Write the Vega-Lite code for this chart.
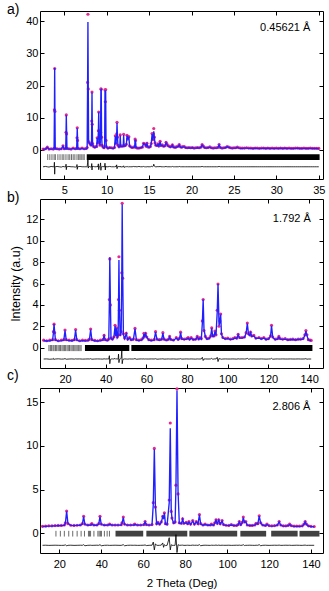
{
"$schema":"https://vega.github.io/schema/vega-lite/v6.json",
"padding":{"left":6,"top":2,"right":4,"bottom":2},
"spacing":20,
"bounds":"flush",
"config":{
 "view":{"stroke":"black","strokeWidth":1},
 "axis":{"grid":false,"domain":false,"tickColor":"black","tickSize":-4,"tickWidth":1,"labelFont":"Liberation Sans","labelFontSize":11,"labelColor":"black","labelFlush":false,"titleFont":"Liberation Sans","titleFontWeight":"normal","titleColor":"black","titleFontSize":12.5},
 "axisX":{"labelPadding":9},
 "axisY":{"labelPadding":6},
 "title":{"anchor":"start","frame":"group","dx":-33,"fontSize":14,"fontWeight":"normal","font":"Liberation Sans","color":"black"}
},
"datasets":{
"a":[
{"x":2.5,"o":0.3,"c":0.3,"d":-5.2},{"x":2.8,"o":0.4,"c":0.3,"d":-5.1},{"x":3.0,"o":0.9,"c":0.8,"d":-5.2},{"x":3.2,"o":0.3,"c":0.3,"d":-5.3},{"x":3.45,"o":0.4,"c":0.3,"d":-5.1},{"x":3.7,"o":0.3,"c":0.3,"d":-5.2},
{"x":3.8,"o":0.5,"c":0.4,"d":-5.2},{"x":3.84,"o":12.5,"c":11.8,"d":-3.8},{"x":3.87,"o":25.3,"c":25.5,"d":-7.5},{"x":3.9,"o":12.0,"c":12.2,"d":-5.4},{"x":3.94,"o":0.5,"c":0.4,"d":-5.2},
{"x":4.15,"o":0.4,"c":0.3,"d":-5.1},{"x":4.4,"o":0.3,"c":0.3,"d":-5.2},{"x":4.65,"o":0.4,"c":0.3,"d":-5.3},{"x":4.85,"o":1.3,"c":1.2,"d":-5.1},{"x":5.0,"o":0.4,"c":0.3,"d":-5.2},
{"x":5.17,"o":0.5,"c":0.4,"d":-5.2},{"x":5.21,"o":5.5,"c":5.2,"d":-4.4},{"x":5.24,"o":10.9,"c":10.8,"d":-6.1},{"x":5.28,"o":5.0,"c":5.3,"d":-5.2},{"x":5.32,"o":0.5,"c":0.4,"d":-5.2},
{"x":5.55,"o":0.4,"c":0.3,"d":-5.1},{"x":5.8,"o":0.3,"c":0.3,"d":-5.2},{"x":6.05,"o":0.6,"c":0.5,"d":-5.2},{"x":6.3,"o":0.4,"c":0.3,"d":-5.3},
{"x":6.46,"o":0.5,"c":0.4,"d":-5.2},{"x":6.5,"o":3.8,"c":3.4,"d":-4.5},{"x":6.53,"o":6.9,"c":6.8,"d":-6.0},{"x":6.57,"o":3.0,"c":3.4,"d":-5.2},{"x":6.61,"o":0.5,"c":0.4,"d":-5.2},
{"x":6.85,"o":0.4,"c":0.3,"d":-5.1},{"x":7.1,"o":0.6,"c":0.5,"d":-5.2},{"x":7.35,"o":0.4,"c":0.3,"d":-5.2},{"x":7.6,"o":0.5,"c":0.4,"d":-5.2},
{"x":7.7,"o":0.8,"c":0.6,"d":-5.2},{"x":7.75,"o":21.0,"c":19.8,"d":-4.0},{"x":7.79,"o":42.2,"c":39.8,"d":-2.0},{"x":7.83,"o":19.0,"c":20.0,"d":-5.6},{"x":7.87,"o":2.6,"c":2.5,"d":-5.2},
{"x":7.95,"o":2.3,"c":2.2,"d":-5.1},{"x":8.05,"o":1.9,"c":1.8,"d":-5.2},{"x":8.15,"o":1.6,"c":1.5,"d":-5.3},
{"x":8.21,"o":1.6,"c":1.5,"d":-5.2},{"x":8.24,"o":9.0,"c":8.6,"d":-4.2},{"x":8.27,"o":18.0,"c":17.9,"d":-6.2},{"x":8.3,"o":8.0,"c":8.5,"d":-5.0},{"x":8.34,"o":2.0,"c":2.0,"d":-5.2},
{"x":8.45,"o":1.1,"c":1.0,"d":-5.1},{"x":8.6,"o":0.9,"c":0.8,"d":-5.2},{"x":8.75,"o":1.1,"c":1.0,"d":-5.2},{"x":8.82,"o":1.1,"c":1.0,"d":-5.2},{"x":8.88,"o":3.8,"c":3.7,"d":-5.0},{"x":8.95,"o":2.1,"c":2.0,"d":-5.3},
{"x":9.02,"o":6.0,"c":5.7,"d":-4.3},{"x":9.06,"o":11.8,"c":11.7,"d":-6.1},{"x":9.1,"o":6.0,"c":6.2,"d":-5.2},{"x":9.15,"o":2.5,"c":2.4,"d":-5.2},{"x":9.22,"o":1.5,"c":1.4,"d":-5.1},
{"x":9.28,"o":5.5,"c":5.2,"d":-4.0},{"x":9.32,"o":19.0,"c":18.7,"d":-6.3},{"x":9.36,"o":18.9,"c":18.8,"d":-5.2},{"x":9.4,"o":4.0,"c":4.3,"d":-5.2},{"x":9.46,"o":1.5,"c":1.4,"d":-5.2},
{"x":9.55,"o":1.0,"c":0.9,"d":-5.1},{"x":9.68,"o":0.7,"c":0.6,"d":-5.2},{"x":9.76,"o":1.1,"c":1.0,"d":-5.2},{"x":9.8,"o":18.7,"c":18.5,"d":-4.1},{"x":9.84,"o":15.0,"c":15.4,"d":-6.2},{"x":9.88,"o":18.8,"c":18.6,"d":-5.0},{"x":9.92,"o":3.0,"c":3.2,"d":-5.3},{"x":9.97,"o":1.0,"c":0.9,"d":-5.2},
{"x":10.15,"o":0.6,"c":0.5,"d":-5.2},{"x":10.35,"o":0.8,"c":0.7,"d":-5.1},{"x":10.55,"o":0.7,"c":0.6,"d":-5.2},{"x":10.75,"o":0.6,"c":0.5,"d":-5.2},{"x":10.92,"o":0.8,"c":0.7,"d":-5.2},
{"x":11.02,"o":4.4,"c":4.3,"d":-5.0},{"x":11.1,"o":2.0,"c":1.9,"d":-5.3},{"x":11.18,"o":5.0,"c":4.8,"d":-4.6},{"x":11.22,"o":8.6,"c":8.4,"d":-5.8},{"x":11.27,"o":4.0,"c":4.1,"d":-5.2},{"x":11.33,"o":1.5,"c":1.4,"d":-5.2},
{"x":11.45,"o":1.0,"c":0.9,"d":-5.1},{"x":11.55,"o":1.2,"c":1.1,"d":-5.2},{"x":11.6,"o":4.7,"c":4.5,"d":-5.0},{"x":11.66,"o":1.3,"c":1.2,"d":-5.3},{"x":11.8,"o":1.2,"c":1.1,"d":-5.2},
{"x":11.95,"o":1.3,"c":1.2,"d":-5.2},{"x":12.0,"o":4.9,"c":4.7,"d":-4.9},{"x":12.06,"o":1.3,"c":1.2,"d":-5.4},{"x":12.2,"o":1.4,"c":1.3,"d":-5.2},{"x":12.32,"o":1.8,"c":1.7,"d":-5.2},
{"x":12.4,"o":4.6,"c":4.5,"d":-5.0},{"x":12.48,"o":3.4,"c":3.3,"d":-5.2},{"x":12.56,"o":4.2,"c":4.0,"d":-5.3},{"x":12.62,"o":4.1,"c":4.0,"d":-5.1},{"x":12.7,"o":1.3,"c":1.2,"d":-5.2},
{"x":12.85,"o":1.0,"c":0.9,"d":-5.2},{"x":13.0,"o":0.8,"c":0.7,"d":-5.2},{"x":13.15,"o":0.9,"c":0.8,"d":-5.1},{"x":13.3,"o":1.0,"c":0.9,"d":-5.2},{"x":13.35,"o":3.4,"c":3.3,"d":-5.0},{"x":13.4,"o":3.0,"c":3.0,"d":-5.2},{"x":13.46,"o":0.8,"c":0.8,"d":-5.2},
{"x":13.6,"o":0.6,"c":0.6,"d":-5.2},{"x":13.8,"o":0.6,"c":0.6,"d":-5.1},{"x":14.0,"o":0.7,"c":0.7,"d":-5.2},{"x":14.2,"o":0.9,"c":0.9,"d":-5.2},
{"x":14.35,"o":2.1,"c":2.0,"d":-5.1},{"x":14.45,"o":1.9,"c":1.9,"d":-5.2},{"x":14.55,"o":1.8,"c":1.7,"d":-5.2},{"x":14.65,"o":1.2,"c":1.2,"d":-5.3},{"x":14.75,"o":2.1,"c":2.0,"d":-5.1},{"x":14.85,"o":1.0,"c":1.0,"d":-5.2},
{"x":15.0,"o":0.9,"c":0.8,"d":-5.2},{"x":15.15,"o":1.1,"c":1.0,"d":-5.2},{"x":15.25,"o":2.0,"c":1.9,"d":-5.1},{"x":15.35,"o":5.1,"c":4.9,"d":-5.0},{"x":15.42,"o":3.2,"c":3.1,"d":-5.2},{"x":15.5,"o":5.0,"c":4.8,"d":-5.0},{"x":15.55,"o":6.7,"c":5.8,"d":-4.4},{"x":15.62,"o":4.0,"c":3.8,"d":-5.0},{"x":15.7,"o":2.2,"c":2.1,"d":-5.2},
{"x":15.8,"o":1.5,"c":1.4,"d":-5.2},{"x":15.95,"o":1.4,"c":1.3,"d":-5.2},{"x":16.05,"o":1.9,"c":1.8,"d":-5.1},{"x":16.15,"o":1.3,"c":1.2,"d":-5.2},{"x":16.3,"o":2.7,"c":2.6,"d":-5.1},{"x":16.4,"o":1.4,"c":1.3,"d":-5.2},
{"x":16.55,"o":1.6,"c":1.5,"d":-5.2},{"x":16.7,"o":1.2,"c":1.1,"d":-5.2},{"x":16.85,"o":1.3,"c":1.2,"d":-5.2},{"x":17.0,"o":2.4,"c":2.3,"d":-5.1},{"x":17.1,"o":1.9,"c":1.8,"d":-5.2},{"x":17.2,"o":1.4,"c":1.3,"d":-5.2},
{"x":17.35,"o":1.2,"c":1.1,"d":-5.2},{"x":17.5,"o":1.0,"c":0.9,"d":-5.2},{"x":17.65,"o":1.2,"c":1.1,"d":-5.2},{"x":17.75,"o":1.6,"c":1.5,"d":-5.1},{"x":17.85,"o":1.0,"c":0.9,"d":-5.2},
{"x":18.0,"o":0.9,"c":0.8,"d":-5.2},{"x":18.15,"o":0.9,"c":0.8,"d":-5.2},{"x":18.3,"o":1.1,"c":1.0,"d":-5.2},{"x":18.45,"o":1.2,"c":1.1,"d":-5.2},{"x":18.55,"o":1.7,"c":1.6,"d":-5.1},{"x":18.7,"o":1.0,"c":0.9,"d":-5.2},
{"x":18.85,"o":0.9,"c":0.8,"d":-5.2},{"x":19.0,"o":1.1,"c":1.0,"d":-5.2},{"x":19.15,"o":1.1,"c":1.0,"d":-5.2},{"x":19.3,"o":0.8,"c":0.7,"d":-5.2},{"x":19.5,"o":0.7,"c":0.6,"d":-5.2},{"x":19.7,"o":0.8,"c":0.7,"d":-5.2},
{"x":19.9,"o":0.7,"c":0.6,"d":-5.2},{"x":20.1,"o":0.8,"c":0.7,"d":-5.2},{"x":20.3,"o":0.6,"c":0.6,"d":-5.2},{"x":20.5,"o":0.7,"c":0.6,"d":-5.2},{"x":20.7,"o":0.8,"c":0.7,"d":-5.2},{"x":20.9,"o":0.7,"c":0.6,"d":-5.2},
{"x":21.1,"o":0.9,"c":0.8,"d":-5.2},{"x":21.25,"o":1.7,"c":1.6,"d":-5.1},{"x":21.4,"o":1.2,"c":1.1,"d":-5.2},{"x":21.55,"o":0.8,"c":0.7,"d":-5.2},{"x":21.75,"o":0.7,"c":0.6,"d":-5.2},{"x":21.95,"o":0.8,"c":0.7,"d":-5.2},
{"x":22.15,"o":1.0,"c":0.9,"d":-5.2},{"x":22.35,"o":0.7,"c":0.6,"d":-5.2},{"x":22.55,"o":0.6,"c":0.6,"d":-5.2},{"x":22.75,"o":0.7,"c":0.6,"d":-5.2},{"x":22.95,"o":0.7,"c":0.6,"d":-5.2},
{"x":23.1,"o":0.8,"c":0.7,"d":-5.2},{"x":23.25,"o":1.7,"c":1.6,"d":-5.1},{"x":23.4,"o":0.8,"c":0.7,"d":-5.2},{"x":23.6,"o":0.6,"c":0.6,"d":-5.2},{"x":23.8,"o":0.7,"c":0.6,"d":-5.2},
{"x":24.0,"o":0.8,"c":0.7,"d":-5.2},{"x":24.2,"o":1.1,"c":1.0,"d":-5.2},{"x":24.4,"o":0.9,"c":0.8,"d":-5.2},{"x":24.6,"o":0.7,"c":0.6,"d":-5.2},{"x":24.8,"o":0.6,"c":0.6,"d":-5.2},
{"x":25.0,"o":0.7,"c":0.6,"d":-5.2},{"x":25.2,"o":0.7,"c":0.6,"d":-5.2},{"x":25.4,"o":0.9,"c":0.8,"d":-5.2},{"x":25.6,"o":0.7,"c":0.6,"d":-5.2},{"x":25.8,"o":0.6,"c":0.5,"d":-5.2},
{"x":26.0,"o":0.6,"c":0.5,"d":-5.2},{"x":26.25,"o":0.6,"c":0.6,"d":-5.2},{"x":26.5,"o":0.7,"c":0.6,"d":-5.2},{"x":26.75,"o":0.6,"c":0.5,"d":-5.2},{"x":27.0,"o":0.6,"c":0.5,"d":-5.2},
{"x":27.25,"o":0.5,"c":0.5,"d":-5.2},{"x":27.5,"o":0.6,"c":0.6,"d":-5.2},{"x":27.75,"o":0.6,"c":0.5,"d":-5.2},{"x":28.0,"o":0.5,"c":0.5,"d":-5.2},{"x":28.25,"o":0.6,"c":0.5,"d":-5.2},
{"x":28.5,"o":0.6,"c":0.6,"d":-5.2},{"x":28.75,"o":0.5,"c":0.5,"d":-5.2},{"x":29.0,"o":0.6,"c":0.6,"d":-5.2},{"x":29.25,"o":0.5,"c":0.5,"d":-5.2},{"x":29.5,"o":0.6,"c":0.5,"d":-5.2},
{"x":29.75,"o":0.5,"c":0.5,"d":-5.2},{"x":30.0,"o":0.6,"c":0.5,"d":-5.2},{"x":30.25,"o":0.5,"c":0.5,"d":-5.2},{"x":30.5,"o":0.6,"c":0.6,"d":-5.2},{"x":30.75,"o":0.5,"c":0.5,"d":-5.2},
{"x":31.0,"o":0.6,"c":0.6,"d":-5.2},{"x":31.25,"o":0.5,"c":0.5,"d":-5.2},{"x":31.5,"o":0.6,"c":0.5,"d":-5.2},{"x":31.75,"o":0.5,"c":0.5,"d":-5.2},{"x":32.0,"o":0.5,"c":0.5,"d":-5.2},
{"x":32.25,"o":0.6,"c":0.5,"d":-5.2},{"x":32.5,"o":0.6,"c":0.6,"d":-5.2},{"x":32.75,"o":0.5,"c":0.5,"d":-5.2},{"x":33.0,"o":0.5,"c":0.5,"d":-5.2},{"x":33.25,"o":0.6,"c":0.5,"d":-5.2},
{"x":33.5,"o":0.5,"c":0.5,"d":-5.2},{"x":33.75,"o":0.5,"c":0.5,"d":-5.2},{"x":34.0,"o":0.6,"c":0.5,"d":-5.2},{"x":34.25,"o":0.5,"c":0.5,"d":-5.2},{"x":34.5,"o":0.5,"c":0.5,"d":-5.2},
{"x":34.75,"o":0.5,"c":0.5,"d":-5.2},{"x":35.0,"o":0.5,"c":0.4,"d":-5.2}
],
"aT":[{"x":3.05},{"x":3.3},{"x":3.55},{"x":3.8},{"x":3.95},{"x":4.25},{"x":4.5},{"x":4.75},{"x":4.95},{"x":5.2},{"x":5.45},{"x":5.65},{"x":5.85},{"x":6.05},{"x":6.25},{"x":6.5},{"x":6.7},{"x":6.85},{"x":7.0},{"x":7.2},{"x":7.35}],
"aB":[{"x0":7.65,"x1":35.1}],
"aL":[{"x":34.0,"y":38.0,"t":"0.45621 Å"}],
"b":[
{"x":9.5,"o":0.7,"c":0.65,"d":-1.06},{"x":11,"o":0.65,"c":0.62,"d":-1.05},{"x":12.5,"o":0.7,"c":0.65,"d":-1.08},{"x":13.9,"o":0.75,"c":0.7,"d":-1.06},{"x":14.3,"o":1.5,"c":1.4,"d":-1.0},{"x":14.6,"o":2.2,"c":2.2,"d":-1.12},{"x":14.9,"o":1.4,"c":1.5,"d":-1.05},{"x":15.3,"o":0.75,"c":0.7,"d":-1.06},
{"x":16.7,"o":0.65,"c":0.62,"d":-1.04},{"x":18.2,"o":0.7,"c":0.66,"d":-1.07},{"x":19.4,"o":0.75,"c":0.7,"d":-1.06},{"x":20.0,"o":1.65,"c":1.6,"d":-1.02},{"x":20.6,"o":0.75,"c":0.7,"d":-1.08},
{"x":22,"o":0.7,"c":0.66,"d":-1.06},{"x":23.4,"o":0.68,"c":0.65,"d":-1.05},{"x":24.6,"o":0.75,"c":0.7,"d":-1.07},{"x":25.2,"o":1.7,"c":1.65,"d":-1.04},{"x":25.8,"o":0.75,"c":0.7,"d":-1.06},
{"x":27.2,"o":0.65,"c":0.62,"d":-1.05},{"x":28.6,"o":0.7,"c":0.66,"d":-1.07},{"x":30,"o":0.68,"c":0.64,"d":-1.06},{"x":31.3,"o":0.7,"c":0.66,"d":-1.05},{"x":32.0,"o":0.8,"c":0.75,"d":-1.06},{"x":32.6,"o":1.75,"c":1.7,"d":-1.03},{"x":33.2,"o":0.75,"c":0.72,"d":-1.08},
{"x":34.6,"o":0.68,"c":0.64,"d":-1.06},{"x":36,"o":0.65,"c":0.62,"d":-1.05},{"x":37.4,"o":0.7,"c":0.66,"d":-1.06},{"x":38.6,"o":0.75,"c":0.7,"d":-1.07},{"x":39.2,"o":1.15,"c":1.1,"d":-1.04},{"x":39.8,"o":0.75,"c":0.7,"d":-1.06},
{"x":40.8,"o":0.7,"c":0.66,"d":-1.05},{"x":41.5,"o":0.8,"c":0.75,"d":-1.06},{"x":41.8,"o":4.5,"c":4.2,"d":-0.75},{"x":42.0,"o":8.3,"c":8.45,"d":-1.5},{"x":42.3,"o":4.0,"c":4.3,"d":-1.1},{"x":42.6,"o":0.9,"c":0.85,"d":-1.06},
{"x":43.3,"o":0.8,"c":0.75,"d":-1.05},{"x":44.0,"o":1.0,"c":0.95,"d":-1.06},{"x":44.6,"o":2.1,"c":2.05,"d":-1.0},{"x":44.95,"o":1.2,"c":1.1,"d":-1.08},{"x":45.3,"o":1.85,"c":1.8,"d":-1.04},{"x":45.7,"o":1.0,"c":0.95,"d":-1.06},
{"x":46.1,"o":1.2,"c":1.1,"d":-1.06},{"x":46.3,"o":4.5,"c":4.2,"d":-0.6},{"x":46.5,"o":8.5,"c":8.2,"d":-1.4},{"x":46.75,"o":3.5,"c":3.7,"d":-1.1},{"x":47.1,"o":1.2,"c":1.1,"d":-1.06},
{"x":47.6,"o":1.5,"c":1.4,"d":-1.0},{"x":47.9,"o":7.0,"c":6.6,"d":-0.3},{"x":48.1,"o":13.5,"c":13.4,"d":-1.5},{"x":48.35,"o":6.5,"c":6.8,"d":-1.2},{"x":48.7,"o":1.3,"c":1.2,"d":-1.06},
{"x":49.3,"o":0.9,"c":0.85,"d":-1.05},{"x":50.1,"o":1.35,"c":1.3,"d":-1.06},{"x":50.8,"o":0.8,"c":0.75,"d":-1.07},{"x":51.7,"o":0.95,"c":0.9,"d":-1.05},{"x":52.5,"o":0.75,"c":0.7,"d":-1.06},
{"x":53.6,"o":0.8,"c":0.75,"d":-1.06},{"x":54.4,"o":1.8,"c":1.75,"d":-1.02},{"x":55.1,"o":0.75,"c":0.7,"d":-1.08},{"x":56.3,"o":0.7,"c":0.66,"d":-1.06},{"x":57.5,"o":0.75,"c":0.7,"d":-1.05},
{"x":58.3,"o":0.9,"c":0.85,"d":-1.06},{"x":58.8,"o":1.35,"c":1.3,"d":-1.04},{"x":59.2,"o":1.1,"c":1.05,"d":-1.07},{"x":59.6,"o":1.35,"c":1.3,"d":-1.05},{"x":60.2,"o":1.0,"c":0.95,"d":-1.06},
{"x":61.2,"o":0.75,"c":0.7,"d":-1.06},{"x":62.4,"o":0.7,"c":0.66,"d":-1.05},{"x":63.8,"o":0.75,"c":0.7,"d":-1.06},{"x":64.5,"o":1.5,"c":1.45,"d":-1.03},{"x":65.2,"o":0.8,"c":0.75,"d":-1.08},
{"x":66.4,"o":0.75,"c":0.7,"d":-1.06},{"x":67.5,"o":0.8,"c":0.75,"d":-1.05},{"x":68.1,"o":1.4,"c":1.35,"d":-1.04},{"x":68.7,"o":0.8,"c":0.75,"d":-1.07},{"x":69.9,"o":0.72,"c":0.68,"d":-1.06},
{"x":70.9,"o":0.8,"c":0.75,"d":-1.05},{"x":71.4,"o":1.05,"c":1.0,"d":-1.06},{"x":72.0,"o":0.78,"c":0.74,"d":-1.06},{"x":73.3,"o":0.72,"c":0.68,"d":-1.05},{"x":74.7,"o":0.95,"c":0.9,"d":-1.07},
{"x":75.6,"o":0.78,"c":0.74,"d":-1.06},{"x":76.3,"o":0.9,"c":0.85,"d":-1.05},{"x":76.8,"o":1.45,"c":1.4,"d":-1.03},{"x":77.4,"o":0.85,"c":0.8,"d":-1.07},{"x":78.6,"o":0.8,"c":0.75,"d":-1.06},
{"x":79.8,"o":0.85,"c":0.8,"d":-1.05},{"x":80.5,"o":0.95,"c":0.9,"d":-1.06},{"x":81.2,"o":0.8,"c":0.75,"d":-1.06},{"x":82.0,"o":0.95,"c":0.9,"d":-1.05},{"x":83.0,"o":0.78,"c":0.74,"d":-1.06},
{"x":84.2,"o":0.8,"c":0.75,"d":-1.07},{"x":85.0,"o":1.05,"c":1.0,"d":-1.05},{"x":85.7,"o":0.82,"c":0.78,"d":-1.06},{"x":86.3,"o":0.95,"c":0.9,"d":-1.06},{"x":87.0,"o":0.85,"c":0.8,"d":-1.05},
{"x":87.5,"o":2.5,"c":2.3,"d":-0.9},{"x":87.9,"o":4.5,"c":4.5,"d":-1.2},{"x":88.3,"o":1.6,"c":1.7,"d":-1.06},{"x":89.0,"o":1.05,"c":1.0,"d":-1.05},{"x":89.8,"o":0.85,"c":0.8,"d":-1.06},
{"x":90.8,"o":0.9,"c":0.85,"d":-1.06},{"x":91.6,"o":1.1,"c":1.05,"d":-1.05},{"x":92.1,"o":1.85,"c":1.8,"d":-1.0},{"x":92.6,"o":1.1,"c":1.05,"d":-1.08},{"x":93.2,"o":1.1,"c":1.05,"d":-1.06},
{"x":93.7,"o":1.55,"c":1.5,"d":-1.04},{"x":94.2,"o":1.2,"c":1.15,"d":-1.06},{"x":94.8,"o":3.5,"c":3.3,"d":-0.9},{"x":95.2,"o":5.95,"c":5.95,"d":-1.3},{"x":95.7,"o":2.0,"c":2.1,"d":-1.0},
{"x":96.1,"o":2.5,"c":2.4,"d":-1.06},{"x":96.5,"o":3.15,"c":3.1,"d":-1.05},{"x":96.9,"o":1.3,"c":1.25,"d":-1.08},{"x":97.6,"o":0.95,"c":0.9,"d":-1.06},{"x":98.8,"o":0.85,"c":0.8,"d":-1.05},
{"x":100.0,"o":0.9,"c":0.85,"d":-1.06},{"x":101.3,"o":0.8,"c":0.75,"d":-1.06},{"x":102.5,"o":0.85,"c":0.8,"d":-1.05},{"x":103.5,"o":0.95,"c":0.9,"d":-1.06},{"x":104.4,"o":0.9,"c":0.85,"d":-1.07},
{"x":105.1,"o":1.25,"c":1.2,"d":-1.04},{"x":105.8,"o":0.95,"c":0.9,"d":-1.06},{"x":107.0,"o":0.95,"c":0.9,"d":-1.05},{"x":108.2,"o":1.0,"c":0.95,"d":-1.06},{"x":109.0,"o":1.4,"c":1.35,"d":-1.05},
{"x":109.6,"o":2.3,"c":2.25,"d":-1.0},{"x":110.2,"o":1.3,"c":1.25,"d":-1.08},{"x":110.8,"o":1.2,"c":1.15,"d":-1.06},{"x":111.2,"o":1.45,"c":1.4,"d":-1.04},{"x":111.8,"o":1.1,"c":1.05,"d":-1.06},
{"x":112.8,"o":1.15,"c":1.1,"d":-1.05},{"x":113.8,"o":0.9,"c":0.85,"d":-1.06},{"x":115.3,"o":0.95,"c":0.9,"d":-1.06},{"x":116.5,"o":0.85,"c":0.8,"d":-1.05},{"x":117.7,"o":0.95,"c":0.9,"d":-1.06},
{"x":118.8,"o":0.8,"c":0.75,"d":-1.07},{"x":120.0,"o":0.85,"c":0.8,"d":-1.06},{"x":121.0,"o":1.1,"c":1.05,"d":-1.05},{"x":121.5,"o":2.1,"c":2.05,"d":-1.0},{"x":122.1,"o":1.0,"c":0.95,"d":-1.08},
{"x":123.3,"o":0.8,"c":0.75,"d":-1.06},{"x":124.5,"o":0.85,"c":0.8,"d":-1.05},{"x":125.1,"o":1.05,"c":1.0,"d":-1.06},{"x":125.8,"o":0.85,"c":0.8,"d":-1.06},{"x":127.0,"o":0.8,"c":0.75,"d":-1.05},
{"x":128.2,"o":0.85,"c":0.8,"d":-1.06},{"x":129.5,"o":0.75,"c":0.72,"d":-1.06},{"x":130.8,"o":0.78,"c":0.74,"d":-1.05},{"x":132.0,"o":0.8,"c":0.76,"d":-1.06},{"x":133.3,"o":0.75,"c":0.72,"d":-1.06},
{"x":134.6,"o":0.8,"c":0.76,"d":-1.05},{"x":135.8,"o":0.8,"c":0.76,"d":-1.06},{"x":137.0,"o":0.85,"c":0.8,"d":-1.06},{"x":137.9,"o":1.2,"c":1.15,"d":-1.05},{"x":138.4,"o":1.6,"c":1.55,"d":-1.02},
{"x":138.9,"o":1.2,"c":1.15,"d":-1.08},{"x":139.6,"o":0.75,"c":0.72,"d":-1.06},{"x":140.5,"o":0.7,"c":0.68,"d":-1.06},{"x":141.0,"o":0.68,"c":0.65,"d":-1.06}
],
"bT":[{"x":12.1},{"x":12.8},{"x":13.4},{"x":14.1},{"x":14.6},{"x":15.3},{"x":15.9},{"x":16.6},{"x":17.2},{"x":17.8},{"x":18.5},{"x":19.1},{"x":19.7},{"x":20.3},{"x":21.0},{"x":21.6},{"x":22.2},{"x":22.9},{"x":23.5},{"x":24.1},{"x":24.8},{"x":25.4},{"x":26.0},{"x":26.7},{"x":27.3},{"x":27.9}],
"bB":[{"x0":29.8,"x1":51.6},{"x0":52.6,"x1":141.6}],
"bL":[{"x":140.8,"y":12.0,"t":"1.792 Å"}],
"c":[
{"x":12.0,"o":0.8,"c":0.78,"d":-1.37},{"x":13.5,"o":0.82,"c":0.8,"d":-1.36},{"x":15.0,"o":0.85,"c":0.82,"d":-1.38},{"x":16.5,"o":0.85,"c":0.83,"d":-1.37},{"x":18.0,"o":0.88,"c":0.85,"d":-1.36},
{"x":19.5,"o":0.9,"c":0.86,"d":-1.37},{"x":21.0,"o":0.9,"c":0.87,"d":-1.38},{"x":22.4,"o":0.95,"c":0.9,"d":-1.37},{"x":22.9,"o":1.2,"c":1.15,"d":-1.3},{"x":23.5,"o":2.55,"c":2.5,"d":-1.45},{"x":24.1,"o":1.1,"c":1.15,"d":-1.37},
{"x":25.5,"o":0.92,"c":0.9,"d":-1.36},{"x":27.0,"o":0.9,"c":0.88,"d":-1.38},{"x":28.5,"o":0.92,"c":0.9,"d":-1.37},{"x":30.0,"o":0.95,"c":0.92,"d":-1.36},{"x":31.0,"o":1.1,"c":1.05,"d":-1.37},{"x":31.6,"o":1.95,"c":1.9,"d":-1.3},{"x":32.2,"o":1.05,"c":1.0,"d":-1.42},
{"x":33.6,"o":0.95,"c":0.92,"d":-1.37},{"x":35.0,"o":1.0,"c":0.95,"d":-1.36},{"x":35.5,"o":1.1,"c":1.05,"d":-1.38},{"x":36.5,"o":0.95,"c":0.92,"d":-1.37},{"x":37.9,"o":0.95,"c":0.92,"d":-1.36},
{"x":38.8,"o":1.1,"c":1.05,"d":-1.37},{"x":39.4,"o":1.95,"c":1.9,"d":-1.3},{"x":40.0,"o":1.05,"c":1.0,"d":-1.42},{"x":41.5,"o":0.95,"c":0.92,"d":-1.37},{"x":43.0,"o":0.95,"c":0.93,"d":-1.36},
{"x":44.0,"o":1.05,"c":1.0,"d":-1.38},{"x":45.2,"o":0.95,"c":0.93,"d":-1.37},{"x":46.6,"o":0.95,"c":0.93,"d":-1.36},{"x":48.0,"o":0.95,"c":0.93,"d":-1.37},{"x":49.5,"o":0.98,"c":0.95,"d":-1.38},
{"x":49.9,"o":1.2,"c":1.15,"d":-1.35},{"x":50.5,"o":1.85,"c":1.8,"d":-1.3},{"x":51.1,"o":1.05,"c":1.0,"d":-1.42},{"x":52.5,"o":0.95,"c":0.93,"d":-1.37},{"x":54.0,"o":0.95,"c":0.93,"d":-1.36},
{"x":55.5,"o":0.98,"c":0.95,"d":-1.37},{"x":56.0,"o":1.05,"c":1.0,"d":-1.36},{"x":57.3,"o":0.95,"c":0.93,"d":-1.38},{"x":58.8,"o":0.95,"c":0.93,"d":-1.37},{"x":60.3,"o":1.0,"c":0.97,"d":-1.36},
{"x":60.9,"o":1.35,"c":1.3,"d":-1.33},{"x":61.5,"o":1.0,"c":0.97,"d":-1.4},{"x":62.8,"o":0.95,"c":0.93,"d":-1.37},{"x":64.2,"o":1.0,"c":0.97,"d":-1.36},{"x":64.8,"o":3.5,"c":3.3,"d":-1.0},
{"x":65.3,"o":9.7,"c":9.6,"d":-1.9},{"x":65.8,"o":3.0,"c":3.2,"d":-1.2},{"x":66.4,"o":1.1,"c":1.05,"d":-1.37},{"x":67.0,"o":1.25,"c":1.2,"d":-1.38},{"x":67.8,"o":1.05,"c":1.0,"d":-1.37},
{"x":68.6,"o":1.3,"c":1.25,"d":-1.35},{"x":69.3,"o":1.95,"c":1.9,"d":-1.1},{"x":69.7,"o":1.8,"c":1.75,"d":-1.6},{"x":70.1,"o":2.35,"c":2.3,"d":-1.3},{"x":70.6,"o":1.1,"c":1.05,"d":-1.4},
{"x":71.4,"o":1.05,"c":1.0,"d":-1.37},{"x":72.4,"o":3.8,"c":3.5,"d":-0.5},{"x":72.9,"o":12.6,"c":12.0,"d":-1.9},{"x":73.35,"o":2.5,"c":2.7,"d":-1.3},{"x":73.7,"o":1.75,"c":1.7,"d":-1.37},
{"x":74.5,"o":1.2,"c":1.15,"d":-1.38},{"x":75.2,"o":1.3,"c":1.2,"d":-1.37},{"x":75.6,"o":5.5,"c":5.2,"d":-0.15},{"x":76.1,"o":16.5,"c":16.3,"d":-2.2},{"x":76.6,"o":4.5,"c":4.8,"d":-1.3},
{"x":77.2,"o":1.2,"c":1.15,"d":-1.37},{"x":78.2,"o":1.15,"c":1.1,"d":-1.36},{"x":78.8,"o":1.65,"c":1.6,"d":-1.35},{"x":79.4,"o":1.15,"c":1.1,"d":-1.38},{"x":80.5,"o":1.25,"c":1.2,"d":-1.37},
{"x":81.2,"o":1.1,"c":1.05,"d":-1.36},{"x":81.8,"o":1.35,"c":1.3,"d":-1.37},{"x":82.6,"o":1.05,"c":1.0,"d":-1.38},{"x":83.6,"o":1.45,"c":1.4,"d":-1.35},{"x":84.4,"o":1.05,"c":1.0,"d":-1.37},
{"x":85.3,"o":1.35,"c":1.3,"d":-1.36},{"x":86.1,"o":1.1,"c":1.05,"d":-1.38},{"x":86.8,"o":2.15,"c":2.1,"d":-1.3},{"x":87.4,"o":1.1,"c":1.05,"d":-1.42},{"x":88.5,"o":0.95,"c":0.92,"d":-1.37},
{"x":89.5,"o":1.05,"c":1.0,"d":-1.36},{"x":90.8,"o":0.95,"c":0.92,"d":-1.37},{"x":92.0,"o":0.95,"c":0.92,"d":-1.38},{"x":92.5,"o":1.05,"c":1.0,"d":-1.36},{"x":93.5,"o":0.95,"c":0.92,"d":-1.37},
{"x":94.1,"o":1.2,"c":1.15,"d":-1.37},{"x":94.7,"o":1.55,"c":1.5,"d":-1.34},{"x":95.3,"o":1.15,"c":1.1,"d":-1.38},{"x":96.0,"o":1.55,"c":1.5,"d":-1.35},{"x":96.7,"o":1.1,"c":1.05,"d":-1.38},
{"x":97.6,"o":1.45,"c":1.4,"d":-1.36},{"x":98.3,"o":1.0,"c":0.95,"d":-1.37},{"x":99.5,"o":0.92,"c":0.9,"d":-1.37},{"x":100.8,"o":0.9,"c":0.88,"d":-1.36},{"x":102.0,"o":1.0,"c":0.95,"d":-1.38},
{"x":103.2,"o":0.9,"c":0.88,"d":-1.37},{"x":104.5,"o":0.9,"c":0.88,"d":-1.36},{"x":105.2,"o":1.0,"c":0.95,"d":-1.37},{"x":105.8,"o":1.35,"c":1.3,"d":-1.35},{"x":106.5,"o":1.0,"c":0.95,"d":-1.38},
{"x":107.2,"o":1.25,"c":1.2,"d":-1.36},{"x":107.7,"o":1.85,"c":1.8,"d":-1.3},{"x":108.3,"o":1.3,"c":1.25,"d":-1.4},{"x":108.9,"o":1.35,"c":1.3,"d":-1.37},{"x":109.6,"o":0.95,"c":0.92,"d":-1.37},
{"x":110.8,"o":0.9,"c":0.87,"d":-1.36},{"x":112.0,"o":0.9,"c":0.87,"d":-1.37},{"x":113.2,"o":0.95,"c":0.92,"d":-1.38},{"x":113.8,"o":1.15,"c":1.1,"d":-1.36},{"x":114.6,"o":1.1,"c":1.05,"d":-1.37},
{"x":115.3,"o":2.0,"c":1.95,"d":-1.3},{"x":116.0,"o":1.2,"c":1.15,"d":-1.42},{"x":117.0,"o":0.95,"c":0.92,"d":-1.37},{"x":118.3,"o":0.9,"c":0.87,"d":-1.36},{"x":119.0,"o":1.05,"c":1.0,"d":-1.37},
{"x":120.0,"o":0.88,"c":0.85,"d":-1.38},{"x":121.3,"o":0.85,"c":0.82,"d":-1.37},{"x":122.6,"o":0.88,"c":0.85,"d":-1.36},{"x":123.9,"o":0.95,"c":0.9,"d":-1.37},{"x":124.8,"o":1.35,"c":1.3,"d":-1.35},
{"x":125.6,"o":0.95,"c":0.9,"d":-1.38},{"x":126.8,"o":0.85,"c":0.82,"d":-1.37},{"x":128.0,"o":0.85,"c":0.82,"d":-1.36},{"x":129.1,"o":0.9,"c":0.87,"d":-1.37},{"x":129.8,"o":1.05,"c":1.0,"d":-1.36},
{"x":130.6,"o":0.88,"c":0.85,"d":-1.38},{"x":131.9,"o":0.82,"c":0.8,"d":-1.37},{"x":133.2,"o":0.82,"c":0.8,"d":-1.36},{"x":134.5,"o":0.82,"c":0.8,"d":-1.37},{"x":135.8,"o":0.85,"c":0.82,"d":-1.38},
{"x":136.6,"o":1.05,"c":1.0,"d":-1.36},{"x":137.2,"o":1.35,"c":1.3,"d":-1.35},{"x":137.8,"o":1.05,"c":1.0,"d":-1.38},{"x":138.8,"o":0.85,"c":0.82,"d":-1.37},{"x":140.0,"o":0.8,"c":0.78,"d":-1.37},{"x":141.5,"o":0.78,"c":0.75,"d":-1.37}
],
"cT":[{"x":18.4},{"x":20.5},{"x":22.4},{"x":24.5},{"x":26.4},{"x":28.5},{"x":30.4},{"x":32.0},{"x":33.9},{"x":34.4},{"x":34.9},{"x":36.5},{"x":38.4},{"x":39.0},{"x":39.6},{"x":40.1},{"x":41.5},{"x":42.8},{"x":43.9}],
"cB":[{"x0":46.8,"x1":60.0},{"x0":61.5,"x1":81.0},{"x0":82.0,"x1":104.8},{"x0":106.3,"x1":118.6},{"x0":121.0,"x1":133.6},{"x0":134.5,"x1":144.0}],
"cL":[{"x":139.7,"y":14.4,"t":"2.806 Å"}]
},
"vconcat":[
{"width":283,"height":168,"title":{"text":"a)","offset":-6},
 "layer":[
  {"data":{"name":"aB"},"mark":{"type":"rect","color":"black"},
   "encoding":{"x":{"field":"x0","type":"quantitative","scale":{"domain":[2.14,35.5],"nice":false,"zero":false},"axis":{"values":[5,10,15,20,25,30,35],"title":null}},"x2":{"field":"x1"},
    "y":{"datum":-1.3,"type":"quantitative","scale":{"domain":[-9,43.2],"nice":false,"zero":false},"axis":{"values":[0,10,20,30,40],"title":null}},"y2":{"datum":-3.1}}},
  {"data":{"name":"aT"},"mark":{"type":"rule","color":"#444","strokeWidth":0.8},
   "encoding":{"x":{"field":"x","type":"quantitative","scale":{"domain":[2.14,35.5],"nice":false,"zero":false},"axis":{"orient":"top","values":[5,10,15,20,25,30,35],"labels":false,"title":null}},
    "y":{"datum":-1.3,"type":"quantitative","scale":{"domain":[-9,43.2],"nice":false,"zero":false},"axis":{"orient":"right","values":[0,10,20,30,40],"labels":false,"title":null}},"y2":{"datum":-3.1}}},
  {"data":{"name":"a"},"mark":{"type":"line","color":"black","strokeWidth":0.8},
   "encoding":{"x":{"field":"x","type":"quantitative","scale":{"domain":[2.14,35.5],"nice":false,"zero":false},"axis":null},"y":{"field":"d","type":"quantitative","scale":{"domain":[-9,43.2],"nice":false,"zero":false},"axis":null}}},
  {"data":{"name":"a"},"mark":{"type":"point","filled":true,"size":10,"color":"#e8288a","opacity":1},
   "encoding":{"x":{"field":"x","type":"quantitative","scale":{"domain":[2.14,35.5],"nice":false,"zero":false},"axis":null},"y":{"field":"o","type":"quantitative","scale":{"domain":[-9,43.2],"nice":false,"zero":false},"axis":null}}},
  {"data":{"name":"a"},"mark":{"type":"line","color":"#1f1fff","strokeWidth":1.35},
   "encoding":{"x":{"field":"x","type":"quantitative","scale":{"domain":[2.14,35.5],"nice":false,"zero":false},"axis":null},"y":{"field":"c","type":"quantitative","scale":{"domain":[-9,43.2],"nice":false,"zero":false},"axis":null}}},
  {"data":{"name":"aL"},"mark":{"type":"text","align":"right","baseline":"middle","fontSize":11,"font":"Liberation Sans","color":"black"},
   "encoding":{"x":{"field":"x","type":"quantitative","axis":null},"y":{"field":"y","type":"quantitative","axis":null},"text":{"field":"t"}}}
 ],
 "resolve":{"axis":{"x":"independent","y":"independent"}}
},
{"width":283,"height":169,"title":{"text":"b)","offset":-6},
 "layer":[
  {"data":{"name":"bB"},"mark":{"type":"rect","color":"black"},
   "encoding":{"x":{"field":"x0","type":"quantitative","scale":{"domain":[7.7,146.8],"nice":false,"zero":false},"axis":{"values":[20,40,60,80,100,120,140],"title":null}},"x2":{"field":"x1"},
    "y":{"datum":0.25,"type":"quantitative","scale":{"domain":[-1.9,13.9],"nice":false,"zero":false},"axis":{"values":[0,2,4,6,8,10,12],"title":"Intensity (a.u)","titlePadding":3}},"y2":{"datum":-0.32}}},
  {"data":{"name":"bT"},"mark":{"type":"rule","color":"#444","strokeWidth":0.8},
   "encoding":{"x":{"field":"x","type":"quantitative","scale":{"domain":[7.7,146.8],"nice":false,"zero":false},"axis":{"orient":"top","values":[20,40,60,80,100,120,140],"labels":false,"title":null}},
    "y":{"datum":0.25,"type":"quantitative","scale":{"domain":[-1.9,13.9],"nice":false,"zero":false},"axis":{"orient":"right","values":[0,2,4,6,8,10,12],"labels":false,"title":null}},"y2":{"datum":-0.32}}},
  {"data":{"name":"b"},"mark":{"type":"line","color":"black","strokeWidth":0.8},
   "encoding":{"x":{"field":"x","type":"quantitative","scale":{"domain":[7.7,146.8],"nice":false,"zero":false},"axis":null},"y":{"field":"d","type":"quantitative","scale":{"domain":[-1.9,13.9],"nice":false,"zero":false},"axis":null}}},
  {"data":{"name":"b"},"mark":{"type":"point","filled":true,"size":10,"color":"#e8288a","opacity":1},
   "encoding":{"x":{"field":"x","type":"quantitative","scale":{"domain":[7.7,146.8],"nice":false,"zero":false},"axis":null},"y":{"field":"o","type":"quantitative","scale":{"domain":[-1.9,13.9],"nice":false,"zero":false},"axis":null}}},
  {"data":{"name":"b"},"mark":{"type":"line","color":"#1f1fff","strokeWidth":1.35},
   "encoding":{"x":{"field":"x","type":"quantitative","scale":{"domain":[7.7,146.8],"nice":false,"zero":false},"axis":null},"y":{"field":"c","type":"quantitative","scale":{"domain":[-1.9,13.9],"nice":false,"zero":false},"axis":null}}},
  {"data":{"name":"bL"},"mark":{"type":"text","align":"right","baseline":"middle","fontSize":11,"font":"Liberation Sans","color":"black"},
   "encoding":{"x":{"field":"x","type":"quantitative","axis":null},"y":{"field":"y","type":"quantitative","axis":null},"text":{"field":"t"}}}
 ],
 "resolve":{"axis":{"x":"independent","y":"independent"}}
},
{"width":283,"height":165,"title":{"text":"c)","offset":4},
 "layer":[
  {"data":{"name":"cB"},"mark":{"type":"rect","color":"#111","opacity":0.8},
   "encoding":{"x":{"field":"x0","type":"quantitative","scale":{"domain":[10.8,145.7],"nice":false,"zero":false},"axis":{"values":[20,40,60,80,100,120,140],"title":"2 Theta (Deg)","titlePadding":8,"titleFontSize":11.5}},"x2":{"field":"x1"},
    "y":{"datum":0.28,"type":"quantitative","scale":{"domain":[-2.25,16.6],"nice":false,"zero":false},"axis":{"values":[0,5,10,15],"title":null}},"y2":{"datum":-0.37}}},
  {"data":{"name":"cT"},"mark":{"type":"rule","color":"#444","strokeWidth":0.8},
   "encoding":{"x":{"field":"x","type":"quantitative","scale":{"domain":[10.8,145.7],"nice":false,"zero":false},"axis":{"orient":"top","values":[20,40,60,80,100,120,140],"labels":false,"title":null}},
    "y":{"datum":0.28,"type":"quantitative","scale":{"domain":[-2.25,16.6],"nice":false,"zero":false},"axis":{"orient":"right","values":[0,5,10,15],"labels":false,"title":null}},"y2":{"datum":-0.37}}},
  {"data":{"name":"c"},"mark":{"type":"line","color":"black","strokeWidth":0.8},
   "encoding":{"x":{"field":"x","type":"quantitative","scale":{"domain":[10.8,145.7],"nice":false,"zero":false},"axis":null},"y":{"field":"d","type":"quantitative","scale":{"domain":[-2.25,16.6],"nice":false,"zero":false},"axis":null}}},
  {"data":{"name":"c"},"mark":{"type":"point","filled":true,"size":10,"color":"#e8288a","opacity":1},
   "encoding":{"x":{"field":"x","type":"quantitative","scale":{"domain":[10.8,145.7],"nice":false,"zero":false},"axis":null},"y":{"field":"o","type":"quantitative","scale":{"domain":[-2.25,16.6],"nice":false,"zero":false},"axis":null}}},
  {"data":{"name":"c"},"mark":{"type":"line","color":"#1f1fff","strokeWidth":1.35},
   "encoding":{"x":{"field":"x","type":"quantitative","scale":{"domain":[10.8,145.7],"nice":false,"zero":false},"axis":null},"y":{"field":"c","type":"quantitative","scale":{"domain":[-2.25,16.6],"nice":false,"zero":false},"axis":null}}},
  {"data":{"name":"cL"},"mark":{"type":"text","align":"right","baseline":"middle","fontSize":11,"font":"Liberation Sans","color":"black"},
   "encoding":{"x":{"field":"x","type":"quantitative","axis":null},"y":{"field":"y","type":"quantitative","axis":null},"text":{"field":"t"}}}
 ],
 "resolve":{"axis":{"x":"independent","y":"independent"}}
}
]
}
